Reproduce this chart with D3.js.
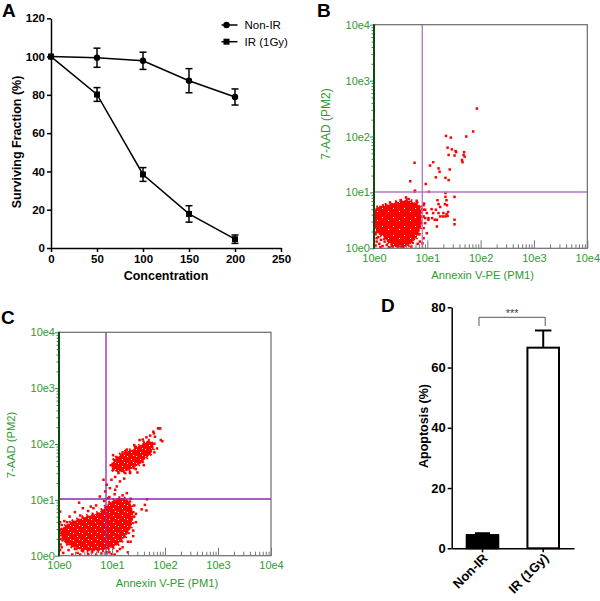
<!DOCTYPE html>
<html>
<head>
<meta charset="utf-8">
<script src="https://cdn.jsdelivr.net/npm/d3@7"></script>
<style>
body { margin: 0; background: #fff; }
svg { display: block; font-family: Arial, "Liberation Sans", sans-serif; }
</style>
</head>
<body>
<script>
// ---- panel A : surviving fraction ----
var concentrations = [0, 50, 100, 150, 200];
var nonIR    = [100, 99.4, 97.8, 87.4, 78.9];
var nonIRErr = [0, 5.0, 4.5, 6.3, 4.2];
var irVals   = [100, 80.2, 38.4, 17.8, 4.6];
var irErr    = [0, 3.6, 3.6, 4.3, 2.2];
var xTicksA = [0, 50, 100, 150, 200, 250];
var yTicksA = [0, 20, 40, 60, 80, 100, 120];
var legendA = ["Non-IR", "IR (1Gy)"];

// ---- panel D : apoptosis ----
var groupsD = ["Non-IR", "IR (1Gy)"];
var apoptosis = [4.4, 66.6];
var apoptosisErr = [0.6, 5.7];
var yTicksD = [0, 20, 40, 60, 80];

// ---- panels B, C : flow cytometry, values are log10 of the channel ----
var decadeLabels = ["10e0", "10e1", "10e2", "10e3", "10e4"];
var gateB = [0.906, 1.007];
var gateC = [0.887, 1.015];

// dense cores (outline)
var bCore = [[0.02,0.69],[0.21,0.76],[0.39,0.81],[0.58,0.85],[0.71,0.83],[0.84,0.77],[0.88,0.60],
  [0.86,0.36],[0.77,0.18],[0.64,0.06],[0.45,0.02],[0.30,0.09],[0.17,0.22],[0.06,0.29],[0.02,0.40]];
var cCoreLow = [[0.06,0.46],[0.25,0.60],[0.49,0.69],[0.77,0.78],[0.96,0.94],[1.15,1.02],[1.30,0.98],
  [1.38,0.78],[1.36,0.55],[1.23,0.33],[1.04,0.17],[0.77,0.10],[0.51,0.10],[0.26,0.17],[0.09,0.28]];
var cCoreHigh = [[1.00,1.64],[1.08,1.74],[1.22,1.84],[1.40,1.90],[1.55,1.98],[1.68,2.05],[1.77,2.02],
  [1.75,1.88],[1.62,1.74],[1.48,1.63],[1.30,1.54],[1.12,1.51],[1.02,1.55]];

// single events
var bDots = [[1.93,2.50],[1.86,2.09],[1.35,2.01],[1.44,1.98],[1.73,2.00],[1.38,1.80],[1.46,1.77],[1.53,1.74],
  [1.54,1.72],[1.69,1.72],[1.68,1.67],[1.70,1.64],[1.51,1.66],[1.40,1.67],[1.65,1.58],[1.66,1.54],[0.76,1.53],
  [1.11,1.54],[1.05,1.48],[1.21,1.43],[1.23,1.37],[1.16,1.27],[1.42,1.41],[1.34,1.26],[1.40,1.22],[0.68,1.20],
  [0.97,1.15],[0.76,1.01],[1.03,1.01],[0.60,0.91],[0.77,1.03],
  [1.34,0.99],[1.34,0.92],[1.36,0.86],[1.33,0.79],[1.37,0.77],[1.51,0.92],[1.19,0.86],[1.21,0.79],[1.24,0.74],
  [1.16,0.69],[1.21,0.63],[1.24,0.57],[1.18,0.51],[1.18,0.39],[1.30,0.63],[1.36,0.61],[1.39,0.65],[1.29,0.57],
  [1.34,0.57],[1.38,0.58],[1.51,0.51],[1.51,0.43],[1.08,0.70],[1.11,0.63],[1.09,0.54],[1.14,0.51],[0.94,0.80],
  [0.93,0.69],[0.96,0.54],[1.02,0.54],[0.99,0.63],
  [0.93,0.77],[0.96,0.69],[0.93,0.57],[1.02,0.51],[0.96,0.45],[0.93,0.36],[0.99,0.27],[0.93,0.18],[0.91,0.09],
  [0.03,0.05],[0.05,0.12],[0.08,0.20],[0.10,0.08],[0.13,0.15],[0.16,0.04],[0.20,0.12],[0.24,0.06],[0.28,0.02],
  [0.03,0.25],[0.06,0.35],[0.11,0.27],[0.04,0.45],[0.08,0.55],[0.02,0.62],[0.35,0.03],[0.22,0.18],[0.12,0.02],
  [0.36,0.10],[0.55,0.01],[0.70,0.03],[0.82,0.08],[0.86,0.12],[0.85,0.25],[0.89,0.45],[0.90,0.70],[0.80,0.85],
  [0.65,0.88],[0.50,0.86],[0.30,0.82],[0.12,0.74],[0.05,0.18],[0.18,0.30]];

var cDots = [[1.95,2.05],[1.87,2.28],[1.91,2.28],[1.79,2.19],[1.66,1.01],[1.62,0.91],[1.56,0.83],[1.65,0.81],
  [1.30,0.06],[0.38,0.95],[0.02,0.79],
  [0.90,1.27],[0.87,1.15],[0.99,1.36],[1.06,1.41],[1.09,1.24],[1.15,1.33],[0.96,1.21],[0.77,1.06],[1.12,1.48],
  [1.23,1.38],[1.02,1.59],[1.34,1.48],[1.28,1.12],[1.48,1.49],[0.93,1.03],[0.84,1.36],[1.06,1.18],
  [1.78,2.22],[1.81,2.13],[1.72,2.01],[1.92,2.07],[1.89,2.28],[1.70,1.84],[1.53,1.67],[1.02,1.80],[0.99,1.62],
  [1.12,1.56],[1.40,1.59],[1.34,1.50],[1.52,2.07],[1.45,1.95],
  [1.10,1.75],[1.20,1.85],[1.28,1.90],[1.42,1.98],[1.58,2.08],[1.65,2.12],[1.72,2.15],[1.60,1.62],[1.45,1.55],
  [1.25,1.48],[1.85,1.92],[1.80,1.85],
  [0.03,0.30],[0.05,0.15],[0.08,0.05],[0.12,0.40],[0.15,0.22],[0.18,0.10],[0.22,0.35],[0.25,0.02],[0.30,0.12],
  [0.35,0.05],[0.40,0.02],[0.45,0.08],[0.55,0.03],[0.62,0.06],[0.70,0.02],[0.80,0.04],[0.90,0.06],[1.00,0.03],
  [1.10,0.08],[0.05,0.55],[0.10,0.62],[0.20,0.70],[0.30,0.78],[0.45,0.85],[0.60,0.88],[0.02,0.60],[1.20,0.15],
  [1.40,0.45],[1.45,0.60],[1.42,0.70],[1.35,0.25],[1.05,0.02],
  [0.40,0.72],[0.55,0.80],[0.65,0.85],[0.70,0.90],[0.85,0.98],[0.95,1.05],[1.05,1.10],[1.20,1.08],[1.35,1.02],
  [1.42,0.90],[1.45,0.75],[1.40,0.35],[1.30,0.25],[1.15,0.12],[0.95,0.06],[0.20,0.50],[0.15,0.60],[0.35,0.62],
  [0.02,0.10],[0.03,0.20],[0.04,0.40],[0.02,0.45]];

var svg = d3.select("body").append("svg").attr("width", 600).attr("height", 601);

var defs = svg.append("defs");
function speckle(id, w, h, holes) {
  var p = defs.append("pattern").attr("id", id).attr("patternUnits", "userSpaceOnUse")
    .attr("width", w).attr("height", h);
  p.append("rect").attr("width", w).attr("height", h).attr("fill", "#ff0000");
  holes.forEach(function(q) {
    p.append("rect").attr("x", q[0]).attr("y", q[1]).attr("width", 1).attr("height", 1).attr("fill", "#fff");
  });
}
speckle("specB", 11, 9, [[3, 4], [8, 1]]);
speckle("specC", 9, 7, [[1, 1], [5, 4], [7, 0]]);

var panelLetter = function(t, x, y) {
  svg.append("text").attr("x", x).attr("y", y).attr("font-size", 19).attr("font-weight", "bold").text(t);
};

// ================= A =================
var drawA = function() {
  var xA = d3.scaleLinear().domain([0, 250]).range([51, 281]);
  var yA = d3.scaleLinear().domain([0, 120]).range([248, 18.3]);
  var g = svg.append("g");

  var ax = g.append("g").attr("transform", "translate(0,248)")
    .call(d3.axisBottom(xA).tickValues(xTicksA).tickSize(4).tickSizeOuter(0).tickPadding(3));
  var ay = g.append("g").attr("transform", "translate(51,0)")
    .call(d3.axisLeft(yA).tickValues(yTicksA).tickSize(4).tickSizeOuter(0).tickPadding(2));
  [ax, ay].forEach(function(a) {
    a.selectAll("path,line").attr("stroke", "#000").attr("stroke-width", 1.5);
    a.selectAll("text").attr("font-size", 11.5).attr("font-weight", "bold").attr("fill", "#000")
      .attr("font-family", "Arial, 'Liberation Sans', sans-serif");
  });

  g.append("text").attr("x", 166).attr("y", 280).attr("text-anchor", "middle")
    .attr("font-size", 12.5).attr("font-weight", "bold").text("Concentration");
  g.append("text").attr("transform", "translate(20.5,142) rotate(-90)").attr("text-anchor", "middle")
    .attr("font-size", 12.5).attr("font-weight", "bold").text("Surviving Fraction (%)");

  var series = [
    { vals: nonIR, err: nonIRErr, shape: "circle" },
    { vals: irVals, err: irErr, shape: "square" }
  ];
  var line = d3.line().x(function(d) { return xA(d[0]); }).y(function(d) { return yA(d[1]); });

  series.forEach(function(s) {
    var pts = concentrations.map(function(c, i) { return [c, s.vals[i], s.err[i]]; });
    g.append("path").attr("d", line(pts)).attr("fill", "none").attr("stroke", "#000").attr("stroke-width", 1.5);
    var eb = g.append("g").selectAll("g").data(pts.filter(function(d) { return d[2] > 0; })).join("g");
    eb.append("line").attr("x1", function(d) { return xA(d[0]); }).attr("x2", function(d) { return xA(d[0]); })
      .attr("y1", function(d) { return yA(d[1] + d[2]); }).attr("y2", function(d) { return yA(d[1] - d[2]); })
      .attr("stroke", "#000").attr("stroke-width", 1.5);
    [1, -1].forEach(function(sg) {
      eb.append("line").attr("x1", function(d) { return xA(d[0]) - 3.5; }).attr("x2", function(d) { return xA(d[0]) + 3.5; })
        .attr("y1", function(d) { return yA(d[1] + sg * d[2]); }).attr("y2", function(d) { return yA(d[1] + sg * d[2]); })
        .attr("stroke", "#000").attr("stroke-width", 1.5);
    });
    if (s.shape === "circle") {
      g.selectAll(null).data(pts).join("circle").attr("cx", function(d) { return xA(d[0]); })
        .attr("cy", function(d) { return yA(d[1]); }).attr("r", 3.2).attr("fill", "#000");
    } else {
      g.selectAll(null).data(pts).join("rect").attr("x", function(d) { return xA(d[0]) - 3; })
        .attr("y", function(d) { return yA(d[1]) - 3; }).attr("width", 6).attr("height", 6).attr("fill", "#000");
    }
  });

  // legend
  legendA.forEach(function(name, i) {
    var ly = 25 + i * 16.7;
    g.append("line").attr("x1", 221.5).attr("x2", 237.5).attr("y1", ly).attr("y2", ly)
      .attr("stroke", "#000").attr("stroke-width", 1.5);
    if (i === 0) g.append("circle").attr("cx", 226.5).attr("cy", ly).attr("r", 3.2);
    else g.append("rect").attr("x", 223.5).attr("y", ly - 3).attr("width", 6).attr("height", 6);
    g.append("text").attr("x", 244.5).attr("y", ly + 4.2).attr("font-size", 11.5).text(name);
  });
};

// ================= B / C =================
var drawFlow = function(o) {
  var x = d3.scaleLog().domain([1, 1e4]).range([o.left, o.right]);
  var y = d3.scaleLog().domain([1, 1e4]).range([o.bottom, o.top]);
  var px = function(e) { return x(Math.pow(10, e)); };
  var py = function(e) { return y(Math.pow(10, e)); };
  var g = svg.append("g");
  var clipId = "clip" + o.name;
  defs.append("clipPath").attr("id", clipId).append("rect")
    .attr("x", o.left).attr("y", o.top).attr("width", o.right - o.left).attr("height", o.bottom - o.top);
  var inner = g.append("g").attr("clip-path", "url(#" + clipId + ")");

  var blob = d3.line().x(function(d) { return px(d[0]); }).y(function(d) { return py(d[1]); })
    .curve(d3.curveCatmullRomClosed);
  // ragged rim first, then the core on top
  inner.selectAll("path.rim").data(o.cores).join("path").attr("class", "rim")
    .attr("d", blob).attr("fill", "none").attr("stroke", "#ff0000").attr("stroke-width", 5)
    .attr("stroke-dasharray", "2 3 1.5 4");
  inner.selectAll("path.core").data(o.cores).join("path").attr("class", "core")
    .attr("d", blob).attr("fill", "url(#" + o.pattern + ")")
    .attr("stroke", "#ff0000").attr("stroke-width", 1.5).attr("stroke-dasharray", "3 2");
  inner.selectAll("rect.ev").data(o.dots).join("rect").attr("class", "ev")
    .attr("x", function(d) { return px(d[0]) - 1.25; }).attr("y", function(d) { return py(d[1]) - 1.25; })
    .attr("width", 2.5).attr("height", 2.5).attr("fill", "#ff0000");

  // quadrant gate
  g.append("line").attr("x1", px(o.gate[0])).attr("x2", px(o.gate[0])).attr("y1", o.top).attr("y2", o.bottom)
    .attr("stroke", o.gateColor).attr("stroke-width", 1.3);
  g.append("line").attr("x1", o.left).attr("x2", o.right).attr("y1", py(o.gate[1])).attr("y2", py(o.gate[1]))
    .attr("stroke", o.gateColor).attr("stroke-width", 1.3);

  var majors = [1, 10, 100, 1000, 10000];
  var minors = [];
  for (var n = 0; n < 4; n++) for (var k = 2; k < 10; k++) minors.push(k * Math.pow(10, n));
  var fmt = function(d) { return decadeLabels[majors.indexOf(d)]; };

  // frame
  g.append("rect").attr("x", o.left).attr("y", o.top).attr("width", o.right - o.left).attr("height", o.bottom - o.top)
    .attr("fill", "none").attr("stroke", "#6b6b6b").attr("stroke-width", 1.2);

  var bx = g.append("g").attr("transform", "translate(0," + o.bottom + ")");
  bx.append("g").call(d3.axisBottom(x).tickValues(minors).tickSize(-4).tickFormat(""));
  bx.append("g").call(d3.axisBottom(x).tickValues(majors).tickSize(-8).tickPadding(6).tickFormat(fmt));
  var ly = g.append("g").attr("transform", "translate(" + o.left + ",0)");
  ly.append("g").call(d3.axisLeft(y).tickValues(minors).tickSize(2.5).tickFormat(""));
  ly.append("g").call(d3.axisLeft(y).tickValues(majors).tickSize(4).tickPadding(0).tickFormat(fmt));
  g.selectAll(".domain").remove();
  bx.selectAll("line").attr("stroke", "#777");
  ly.selectAll("line").attr("stroke", "#4a7a4a");
  g.selectAll(".tick text").attr("fill", "#2f9a2f").attr("font-size", 11)
    .attr("font-family", "Arial, 'Liberation Sans', sans-serif");
  g.append("line").attr("x1", o.left).attr("x2", o.left).attr("y1", o.top - 0.5).attr("y2", o.bottom + 0.5)
    .attr("stroke", "#0b4d0b").attr("stroke-width", 2);

  g.append("text").attr("x", (o.left + o.right) / 2 + 2).attr("y", o.bottom + 31).attr("text-anchor", "middle")
    .attr("fill", "#2f9a2f").attr("font-size", 11.2).text("Annexin V-PE (PM1)");
  g.append("text").attr("transform", "translate(" + o.yTitleX + "," + o.yTitleY + ") rotate(-90)")
    .attr("text-anchor", "middle").attr("fill", "#2f9a2f").attr("font-size", o.yTitleSize).text("7-AAD (PM2)");
};

// ================= D =================
var drawD = function() {
  var xD = d3.scaleBand().domain(groupsD).range([451.7, 574]).paddingInner(0.48).paddingOuter(0.247);
  var yD = d3.scaleLinear().domain([0, 80]).range([548.3, 307.3]);
  var g = svg.append("g");
  var rows = groupsD.map(function(gname, i) { return { name: gname, v: apoptosis[i], e: apoptosisErr[i], filled: i === 0 }; });

  // error bars (upward only)
  rows.forEach(function(d) {
    var cx = xD(d.name) + xD.bandwidth() / 2;
    var half = d.filled ? 7.5 : 8.2;
    g.append("line").attr("x1", cx).attr("x2", cx).attr("y1", yD(d.v)).attr("y2", yD(d.v + d.e))
      .attr("stroke", "#000").attr("stroke-width", 2);
    g.append("line").attr("x1", cx - half).attr("x2", cx + half).attr("y1", yD(d.v + d.e)).attr("y2", yD(d.v + d.e))
      .attr("stroke", "#000").attr("stroke-width", 2);
  });
  g.selectAll("rect.bar").data(rows).join("rect").attr("class", "bar")
    .attr("x", function(d) { return xD(d.name); }).attr("width", xD.bandwidth())
    .attr("y", function(d) { return yD(d.v); }).attr("height", function(d) { return yD(0) - yD(d.v); })
    .attr("fill", function(d) { return d.filled ? "#000" : "#fff"; })
    .attr("stroke", "#000").attr("stroke-width", 2);

  var ay = g.append("g").attr("transform", "translate(451.7,0)")
    .call(d3.axisLeft(yD).tickValues(yTicksD).tickSize(4).tickSizeOuter(0).tickPadding(2));
  var ax = g.append("g").attr("transform", "translate(0,548.3)")
    .call(d3.axisBottom(xD).tickSize(4).tickSizeOuter(0).tickFormat(""));
  [ax, ay].forEach(function(a) {
    a.selectAll("path,line").attr("stroke", "#000").attr("stroke-width", 1.5);
    a.selectAll("text").attr("font-size", 13).attr("font-weight", "bold").attr("fill", "#000")
      .attr("font-family", "Arial, 'Liberation Sans', sans-serif");
  });
  g.selectAll(null).data(groupsD).join("text")
    .attr("transform", function(d) { return "translate(" + (xD(d) + xD.bandwidth() / 2 + 6) + ",559) rotate(-45)"; })
    .attr("text-anchor", "end").attr("font-size", 13).attr("font-weight", "bold").text(function(d) { return d; });

  g.append("text").attr("transform", "translate(427.5,426) rotate(-90)").attr("text-anchor", "middle")
    .attr("font-size", 12.5).attr("font-weight", "bold").text("Apoptosis (%)");

  // significance bracket
  var c0 = xD(groupsD[0]) + xD.bandwidth() / 2 - 3.5, c1 = xD(groupsD[1]) + xD.bandwidth() / 2 + 2;
  g.append("path").attr("d", "M" + c0 + ",326V317.3H" + c1 + "V326")
    .attr("fill", "none").attr("stroke", "#555").attr("stroke-width", 1);
  g.append("text").attr("x", (c0 + c1) / 2).attr("y", 317).attr("text-anchor", "middle")
    .attr("font-size", 11).attr("fill", "#444").text("***");
};

drawA();
drawFlow({ name: "B", left: 374, right: 587.3, top: 24.7, bottom: 248.3, cores: [bCore], dots: bDots,
  gate: gateB, gateColor: "#b574c9", pattern: "specB", yTitleX: 330, yTitleY: 124, yTitleSize: 12 });
drawFlow({ name: "C", left: 59, right: 271, top: 332.3, bottom: 555.7, cores: [cCoreLow, cCoreHigh], dots: cDots,
  gate: gateC, gateColor: "#8b2aa6", pattern: "specC", yTitleX: 15, yTitleY: 445, yTitleSize: 11.2 });
drawD();

panelLetter("A", 2, 17);
panelLetter("B", 317, 17);
panelLetter("C", 1, 324);
panelLetter("D", 381, 312);
</script>
</body>
</html>
